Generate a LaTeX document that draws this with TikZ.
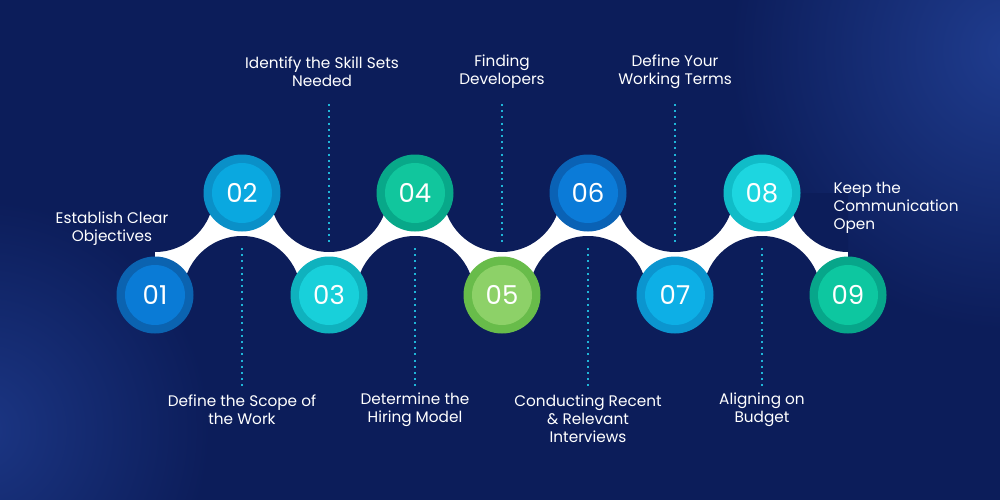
\documentclass[tikz,border=0pt]{standalone}
\usepackage{fontspec}
\setmainfont{Poppins}
\begin{document}
\definecolor{bg}{HTML}{0C1D5A}
\definecolor{bgl}{HTML}{1F3C8E}
\definecolor{dotc}{HTML}{1FB5D8}
\begin{tikzpicture}[x=1pt,y=-1pt,
  lbl/.style={text=white,font=\fontsize{15.3}{18}\selectfont,align=center},
  num/.style={text=white,font=\fontsize{26}{26}\selectfont},
  dots/.style={dotc,line width=2pt,dash pattern=on 2pt off 4.2pt}]
\useasboundingbox (0,0) rectangle (1000,500);
\begin{scope}
\clip (0,0) rectangle (1000,500);
\fill[bg] (0,0) rectangle (1000,500);
\shade[inner color=bgl, outer color=bg] (1010,50) circle (280);
\shade[inner color=bgl!80!bg, outer color=bg] (-20,430) circle (230);
\end{scope}
% white band
\begin{scope}
\clip (155,193) rectangle (848,295);
\fill[white] (155,193) rectangle (848,295);
\foreach \x in {155,329,502,675,848} \fill[bg] (\x,193) circle (59);
\foreach \x in {242,415,588,762} \fill[bg] (\x,295) circle (59);
\end{scope}
% dotted lines
\foreach \x in {242,415,588,762} \draw[dots] (\x,248) -- (\x,386);
\foreach \x in {329,502,675} \draw[dots] (\x,104) -- (\x,242);
% nodes
\foreach \n/\x/\y/\o/\i in {
 01/155/295/0B63B0/0A7BD6, 02/242/193/0A90C8/0AA8E0, 03/329/295/0FB2BE/18D0DA,
 04/415/193/08A889/11C69D, 05/502/295/68BC4A/8DD168, 06/588/193/0A62B5/0B7BD8,
 07/675/295/0B95CF/0DAFE6, 08/762/193/10BCC8/1DD6E0, 09/848/295/07A68A/0DC7A0}{
  \definecolor{oc}{HTML}{\o}\definecolor{ic}{HTML}{\i}
  \fill[oc] (\x,\y) circle (38.5);
  \fill[ic] (\x,\y) circle (30);
  \node[num] (n\n) at (\x,\y) {\n};
}
% labels
\node[lbl] (l1) at (112,229) {Establish Clear\\Objectives};
\node[lbl] (l2) at (242,410) {Define the Scope of\\the Work};
\node[lbl] (l3) at (322,72) {Identify the Skill Sets\\Needed};
\node[lbl] (l4) at (415,410) {Determine the\\Hiring Model};
\node[lbl] (l5) at (502,72) {Finding\\Developers};
\node[lbl] (l6) at (588,419) {Conducting Recent\\\& Relevant\\Interviews};
\node[lbl] (l7) at (675,72) {Define Your\\Working Terms};
\node[lbl] (l8) at (762,410) {Aligning on\\Budget};
\node[lbl,align=left,anchor=west] (l9) at (830,208) {Keep the\\Communication\\Open};
\end{tikzpicture}
\end{document}
